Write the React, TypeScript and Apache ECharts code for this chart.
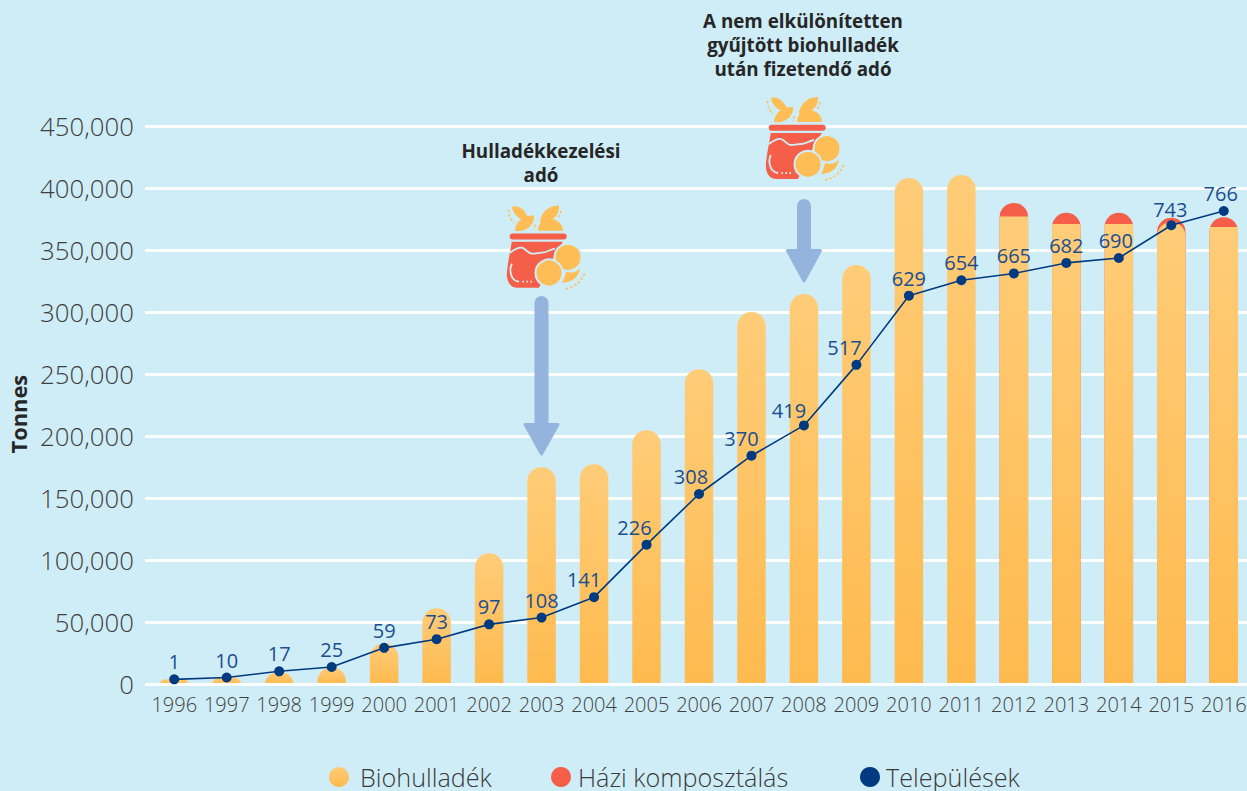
import React, { useEffect, useRef } from "react";
import * as echarts from "echarts";

const years = ["1996","1997","1998","1999","2000","2001","2002","2003","2004","2005","2006","2007","2008","2009","2010","2011","2012","2013","2014","2015","2016"];
const biowaste = [4000,5500,9500,13700,33000,61300,105600,175000,177400,204800,254000,300000,314500,338000,408000,410500,377000,371000,371000,372500,368500];
const homeComposting = [0,0,0,0,0,0,0,0,0,0,0,0,0,0,0,0,11000,9000,9000,3500,8000];
const settlementLabels = [1,10,17,25,59,73,97,108,141,226,308,370,419,517,629,654,665,682,690,743,766];
const settlementLevels = [8,11,21,28,59,73,97,108,141,226,308,370,419,517,629,654,665,682,690,743,766];
const settlementLabelDx = [0,0,0,0,0,0,0,0,-10,-12,-8,-10,-15,-12,0,0,0,0,-3,-1,-3];
const settlementLabelDy = [0,0,0,0,0,0,0,0,0,0,0,0,3,0,0,0,0,0,0,2,0];
const flatTopYears = ["2012","2013","2014","2016"];
const yearsWithRedTop = years.map((_, i) => biowaste[i] + homeComposting[i]);
const BG = "#CFEDF7";
const YELLOW = "#FEBE55";
const RED = "#F55F4A";
const BLUE = "#003B82";
const ARROW = "#94B4DE";
const FONT = "'Open Sans', sans-serif";

const iconPaths: Record<string, string> = {
  iconLeafA: "M13,6 C19,4 27,9 29,18 C22,21 14,14 13,6Z",
  iconLeafB: "M16,30 C16,22 24,14 35,15 C36,24 27,32 16,30Z",
  iconLeafC: "M41,22 C41,13 50,4 60,5 C61,14 52,23 41,22Z",
  iconDome: "M39,30 C39,22 45,18 51,18 C58,18 64,23 64,30Z",
  iconCrescent: "M63,82 C72,82 80,77 81,67 C78,72 72,72.5 67,71 C66,75 65,79 63,82Z",
  iconDashes: "M9.5,9 C9,14 12,19 15,22 M62,10 C61,14 60,16 58,18 M36,24 L35,29 M67,88 C74,87 82,82 86,72",
  iconBag: "M12.7,41 H64 L58,50 L40,87 H18 C10,87 7,78 8,71 C9,62 10,56 11,52Z",
  iconWave: "M11,52 C15,49 19,46 23,47 C27,48 29,53 33,53 C37,53 40,52 43,52 C47,52 51,49 56,48",
  iconShine: "M13,63 C10,68 11,80 20,81",
  iconDots: "M23.5,81 H25 M27.5,81 H29 M31.5,81 H33",
  arrowShort: "M12.5,7 A5.5,5.5 0 0 1 23.5,7 V51.5 H34.5 L18,82 L1.5,51.5 H12.5Z",
  arrowLong: "M12.5,7 A5.5,5.5 0 0 1 23.5,7 V128.5 H34.5 L18,158 L1.5,128.5 H12.5Z",
};
Object.keys(iconPaths).forEach((k) => {
  echarts.graphic.registerShape(k, echarts.graphic.extendPath(iconPaths[k] as any, {}) as any);
});

const Z = 20;
function bagIcon(x: number, y: number) {
  const fillY = { fill: YELLOW };
  const outline = { fill: "none", stroke: BG, lineWidth: 1.8 };
  const parts: any[] = [
    { type: "iconLeafA", style: fillY },
    { type: "iconLeafB", style: fillY },
    { type: "iconLeafC", style: fillY },
    { type: "iconDome", style: fillY },
    { type: "iconCrescent", style: fillY },
    { type: "iconDashes", style: { fill: "none", stroke: YELLOW, lineWidth: 1.5, lineDash: [2.5, 2] } },
    { type: "rect", shape: { x: 10.7, y: 32.7, width: 57, height: 6, r: 3 }, style: { fill: RED } },
    { type: "iconBag", style: { fill: RED } },
    { type: "iconWave", style: outline },
    { type: "iconShine", style: outline },
    { type: "iconDots", style: outline },
    { type: "circle", shape: { cx: 69, cy: 56.7, r: 13.5 }, style: { fill: YELLOW, stroke: BG, lineWidth: 2 } },
    { type: "circle", shape: { cx: 50, cy: 72.3, r: 13.5 }, style: { fill: YELLOW, stroke: BG, lineWidth: 2 } },
  ];
  return { type: "group", x, y, silent: true, children: parts.map((p) => ({ ...p, z: Z })) };
}

const note = (text: string, cx: number, top: number) => ({
  type: "text", x: cx, y: top, silent: true, z: Z,
  style: { text, fill: "#262626", font: `700 18.8px ${FONT}`, align: "center", verticalAlign: "top", lineHeight: 24 },
});
const arrowStyle = { fill: ARROW, stroke: ARROW, lineWidth: 3, lineJoin: "round" };
const stops = [{ offset: 0, color: "#FFCC78" }, { offset: 1, color: "#FEBA4E" }];

export default function App() {
  const ref = useRef<HTMLDivElement>(null);
  useEffect(() => {
    const chart = echarts.init(ref.current!, undefined, { renderer: "svg" });
    const legendText = { fontFamily: FONT, fontSize: 25.2, lineHeight: 26, fontWeight: 300, color: "#3A3A3A" };
    const legendBase = { top: 764, itemWidth: 20, itemHeight: 20, icon: "circle", padding: 0 };
    chart.setOption({
      animation: false,
      backgroundColor: BG,
      grid: { left: 148, top: 126, width: 1102, height: 558.3, outerBoundsMode: "none" },
      legend: [
        { ...legendBase, left: 329, textStyle: { ...legendText, padding: [0, 0, 0, 6] }, data: [{ name: "Biohulladék", itemStyle: { color: new echarts.graphic.LinearGradient(0, 0, 0, 1, stops) } }] },
        { ...legendBase, left: 551, textStyle: { ...legendText, padding: [0, 0, 0, 2] }, data: ["Házi komposztálás"] },
        { ...legendBase, left: 860, textStyle: { ...legendText, padding: [0, 0, 0, 1] }, data: ["Települések"] },
      ],
      xAxis: {
        type: "category", data: years, z: 3,
        axisLine: { lineStyle: { color: "#fff", width: 3 } },
        axisTick: { show: false },
        axisLabel: { fontFamily: FONT, fontSize: 20, fontWeight: 300, color: "#3F3F3F", margin: 10, interval: 0 },
      },
      yAxis: [
        {
          type: "value", min: 0, max: 450000, interval: 50000,
          name: "Tonnes", nameLocation: "middle", nameRotate: 90, nameGap: 116.5,
          nameTextStyle: { fontFamily: FONT, fontSize: 21.8, fontWeight: 700, color: "#262626", padding: [0, 18, 0, 0] },
          axisLine: { show: false },
          axisTick: { show: true, length: 3, lineStyle: { color: "#fff", width: 3 } },
          splitLine: { lineStyle: { color: "#fff", width: 3 } },
          axisLabel: { fontFamily: FONT, fontSize: 25.8, fontWeight: 300, color: "#3F3F3F", margin: 14, formatter: (v: number) => v.toLocaleString("en-US") },
        },
        { type: "value", min: 0, max: 903.6, show: false, splitLine: { show: false } },
      ],
      series: [
        {
          name: "Házi komposztálás", type: "bar", barWidth: 28.5, barGap: "-100%",
          data: yearsWithRedTop.map((v, i) => (homeComposting[i] > 0 ? v : null)),
          itemStyle: { color: RED, borderRadius: [14.25, 14.25, 0, 0] }, z: 2,
        },
        {
          name: "Biohulladék", type: "bar", barWidth: 28.5, barGap: "-100%",
          data: biowaste.map((v, i) => ({
            value: v,
            itemStyle: { color: new echarts.graphic.LinearGradient(0, 0, 0, 1, stops), borderRadius: flatTopYears.includes(years[i]) ? 0 : [14.25, 14.25, 0, 0] },
          })),
          z: 2.5,
        },
        {
          name: "Települések", type: "line", yAxisIndex: 1, z: 5,
          data: settlementLevels.map((v, i) => ({ value: v, label: { offset: [settlementLabelDx[i], settlementLabelDy[i]] } })),
          symbol: "circle", symbolSize: 10, showSymbol: true,
          lineStyle: { color: BLUE, width: 1.6 }, itemStyle: { color: BLUE },
          label: {
            show: true, position: "top", distance: 2.5, fontFamily: FONT, fontSize: 20, color: "#1C4E8F",
            formatter: (p: any) => String(settlementLabels[p.dataIndex]),
          },
        },
      ],
      graphic: [
        note("Hulladékkezelési\nadó", 541, 139),
        note("A nem elkülönítetten\ngyűjtött biohulladék\nután fizetendő adó", 803, 9),
        bagIcon(758, 92),
        bagIcon(499, 200.7),
        { type: "arrowLong", x: 523.5, y: 296, silent: true, z: Z, style: arrowStyle },
        { type: "arrowShort", x: 786, y: 199, silent: true, z: Z, style: arrowStyle },
      ],
    });
    return () => chart.dispose();
  }, []);
  return <div ref={ref} style={{ position: "absolute", left: 0, top: 0, width: 1247, height: 791 }} />;
}
